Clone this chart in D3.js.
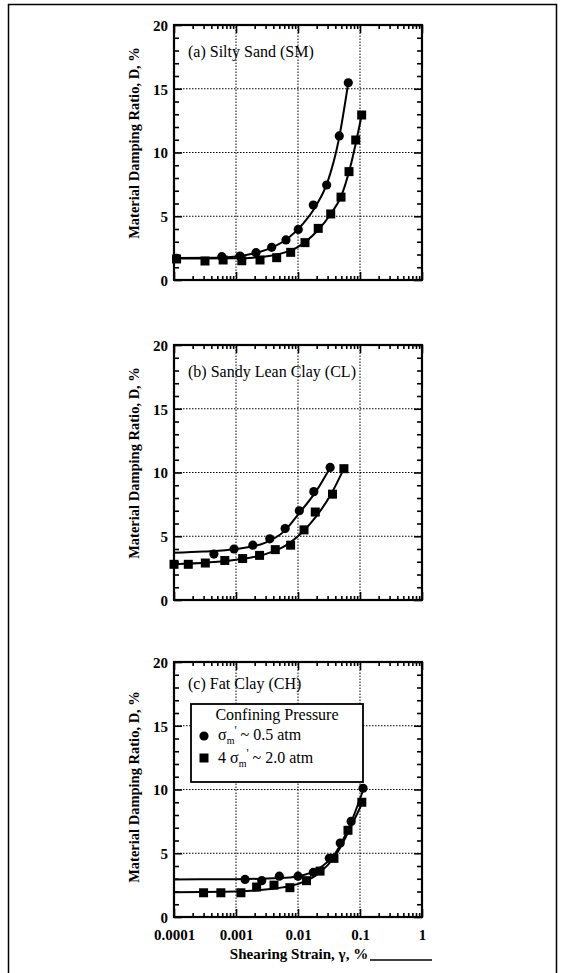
<!DOCTYPE html>
<html>
<head>
<meta charset="utf-8">
<script src="https://cdn.jsdelivr.net/npm/d3@7"></script>
<style>
  html, body { margin: 0; padding: 0; background: #fff; }
  svg { display: block; }
  text { font-family: "Liberation Serif", "Times New Roman", serif; fill: #000; }
</style>
</head>
<body>
<svg id="chart" width="563" height="973"></svg>
<script>
// ---------------- DATA ----------------
const strainTickValues = [0.0001, 0.001, 0.01, 0.1, 1];
const strainTickLabels = ["0.0001", "0.001", "0.01", "0.1", "1"];
const dampingTickValues = [0, 5, 10, 15, 20];
const dampingTickLabels = ["0", "5", "10", "15", "20"];
const panelTitles = ["(a) Silty Sand (SM)", "(b) Sandy Lean Clay (CL)", "(c) Fat Clay (CH)"];
const yAxisTitle = "Material Damping Ratio, D, %";
const xAxisTitle = "Shearing Strain, \u03B3, %";
const legendTitle = "Confining Pressure";

// (a) Silty Sand (SM)
const smCircleStrain = [0.00011, 0.00059, 0.00116, 0.0021, 0.00376, 0.0064, 0.0101, 0.01766, 0.029, 0.0463, 0.0647];
const smCircleD      = [1.7, 1.83, 1.88, 2.14, 2.56, 3.14, 3.97, 5.88, 7.45, 11.3, 15.47];
const smSquareStrain = [0.00011, 0.000316, 0.00062, 0.00124, 0.00244, 0.00453, 0.00762, 0.01297, 0.0212, 0.0337, 0.0494, 0.0665, 0.0853, 0.1064];
const smSquareD      = [1.65, 1.49, 1.57, 1.51, 1.57, 1.75, 2.17, 2.93, 4.05, 5.18, 6.5, 8.5, 10.98, 12.94];
const smCircleCurveStrain = [0.0001, 0.0005, 0.001, 0.002, 0.004, 0.007, 0.012, 0.02, 0.03, 0.045, 0.0647];
const smCircleCurveD      = [1.72, 1.75, 1.84, 2.1, 2.6, 3.3, 4.4, 5.9, 7.7, 10.9, 15.47];
const smSquareCurveStrain = [0.0001, 0.001, 0.003, 0.006, 0.01, 0.02, 0.035, 0.05, 0.07, 0.1064];
const smSquareCurveD      = [1.68, 1.7, 1.85, 2.15, 2.6, 3.8, 5.3, 6.6, 8.9, 12.94];

// (b) Sandy Lean Clay (CL)
const clCircleStrain = [0.00044, 0.00093, 0.00187, 0.0035, 0.0062, 0.0105, 0.018, 0.033];
const clCircleD      = [3.6, 4.0, 4.3, 4.8, 5.6, 7.0, 8.5, 10.4];
const clSquareStrain = [0.0001, 0.00017, 0.00032, 0.00066, 0.00128, 0.0024, 0.0043, 0.0076, 0.0125, 0.019, 0.036, 0.055];
const clSquareD      = [2.8, 2.8, 2.9, 3.1, 3.25, 3.5, 3.95, 4.3, 5.5, 6.9, 8.3, 10.3];
const clCircleCurveStrain = [0.0001, 0.0003, 0.001, 0.003, 0.006, 0.01, 0.02, 0.034];
const clCircleCurveD      = [3.7, 3.8, 4.0, 4.5, 5.4, 6.7, 8.6, 10.5];
const clSquareCurveStrain = [0.0001, 0.001, 0.003, 0.006, 0.01, 0.02, 0.035, 0.055];
const clSquareCurveD      = [2.8, 3.15, 3.6, 4.2, 5.0, 6.6, 8.4, 10.3];

// (c) Fat Clay (CH)
const chCircleStrain = [0.0014, 0.0026, 0.005, 0.01, 0.0177, 0.032, 0.048, 0.072, 0.112];
const chCircleD      = [2.95, 2.85, 3.2, 3.2, 3.5, 4.6, 5.8, 7.5, 10.1];
const chSquareStrain = [0.0003, 0.00057, 0.0012, 0.00215, 0.0041, 0.0074, 0.0137, 0.0227, 0.038, 0.064, 0.107];
const chSquareD      = [1.9, 1.9, 1.9, 2.35, 2.5, 2.3, 2.85, 3.6, 4.6, 6.8, 9.0];
const chCircleCurveStrain = [0.0001, 0.001, 0.005, 0.01, 0.02, 0.04, 0.07, 0.115];
const chCircleCurveD      = [2.95, 2.97, 3.05, 3.2, 3.7, 5.0, 7.3, 10.1];
const chSquareCurveStrain = [0.0001, 0.001, 0.003, 0.01, 0.02, 0.04, 0.07, 0.11];
const chSquareCurveD      = [1.95, 2.0, 2.15, 2.6, 3.3, 4.8, 7.0, 9.0];

// ---------------- BUILD ----------------
const zip = (a, b) => a.map((v, i) => [v, b[i]]);
const panels = [
  { title: panelTitles[0], top: 25,  titleDy: 32, labelCy: 143,
    circles: zip(smCircleStrain, smCircleD), squares: zip(smSquareStrain, smSquareD),
    cCurve: zip(smCircleCurveStrain, smCircleCurveD), sCurve: zip(smSquareCurveStrain, smSquareCurveD) },
  { title: panelTitles[1], top: 345, titleDy: 32, labelCy: 463,
    circles: zip(clCircleStrain, clCircleD), squares: zip(clSquareStrain, clSquareD),
    cCurve: zip(clCircleCurveStrain, clCircleCurveD), sCurve: zip(clSquareCurveStrain, clSquareCurveD) },
  { title: panelTitles[2], top: 662, titleDy: 27, labelCy: 787, legend: true, xLabels: true,
    circles: zip(chCircleStrain, chCircleD), squares: zip(chSquareStrain, chSquareD),
    cCurve: zip(chCircleCurveStrain, chCircleCurveD), sCurve: zip(chSquareCurveStrain, chSquareCurveD) }
];

const svg = d3.select("#chart");
const left = 174, right = 422, ph = 255;

// outer frame
svg.append("rect").attr("x", 8.5).attr("y", 4.5).attr("width", 548).attr("height", 980)
  .attr("fill", "none").attr("stroke", "#000").attr("stroke-width", 1.5);

const x = d3.scaleLog().domain([1e-4, 1]).range([left, right]);
const minorX = [];
for (let e = -4; e < 0; e++) for (let k = 2; k <= 9; k++) minorX.push(k * Math.pow(10, e));
const minorY = d3.range(0, 21, 1).filter(v => v % 5 !== 0);

panels.forEach(p => {
  const y = d3.scaleLinear().domain([0, 20]).range([p.top + ph, p.top]);
  const g = svg.append("g");

  // grid (dotted)
  g.append("g").selectAll("line").data(strainTickValues.slice(1, -1)).join("line")
    .attr("x1", d => x(d)).attr("x2", d => x(d)).attr("y1", y(0)).attr("y2", y(20))
    .attr("stroke", "#000").attr("stroke-width", 1).attr("stroke-dasharray", "1.5,1.5");
  g.append("g").selectAll("line").data(dampingTickValues.slice(1, -1)).join("line")
    .attr("x1", left).attr("x2", right).attr("y1", d => y(d)).attr("y2", d => y(d))
    .attr("stroke", "#000").attr("stroke-width", 1).attr("stroke-dasharray", "1.5,1.5");

  // axes with inward ticks
  const fmtY = d => dampingTickLabels[dampingTickValues.indexOf(d)];
  const fmtX = d => strainTickLabels[strainTickValues.indexOf(d)];
  const styleAxis = sel => {
    sel.select(".domain").remove();
    sel.selectAll(".tick line").attr("stroke", "#000").attr("stroke-width", 1.6);
    sel.selectAll("text").style("font-family", "'Liberation Serif', serif")
      .style("font-weight", "bold").style("font-size", "15px").attr("fill", "#000");
  };
  g.append("g").attr("transform", `translate(${left},0)`)
    .call(d3.axisLeft(y).tickValues(dampingTickValues).tickFormat(fmtY).tickSize(-8).tickPadding(6))
    .call(styleAxis).selectAll("text").attr("dy", "0.36em");
  g.append("g").attr("transform", `translate(${left},0)`)
    .call(d3.axisLeft(y).tickValues(minorY).tickFormat("").tickSize(-5)).call(styleAxis);
  g.append("g").attr("transform", `translate(${right},0)`)
    .call(d3.axisRight(y).tickValues(dampingTickValues).tickFormat("").tickSize(-8)).call(styleAxis);
  g.append("g").attr("transform", `translate(${right},0)`)
    .call(d3.axisRight(y).tickValues(minorY).tickFormat("").tickSize(-5)).call(styleAxis);

  g.append("g").attr("transform", `translate(0,${y(0)})`)
    .call(d3.axisBottom(x).tickValues(strainTickValues).tickFormat(p.xLabels ? fmtX : "").tickSize(-8).tickPadding(12))
    .call(styleAxis);
  g.append("g").attr("transform", `translate(0,${y(0)})`)
    .call(d3.axisBottom(x).tickValues(minorX).tickFormat("").tickSize(-4)).call(styleAxis);
  g.append("g").attr("transform", `translate(0,${y(20)})`)
    .call(d3.axisTop(x).tickValues(strainTickValues).tickFormat("").tickSize(-8)).call(styleAxis);
  g.append("g").attr("transform", `translate(0,${y(20)})`)
    .call(d3.axisTop(x).tickValues(minorX).tickFormat("").tickSize(-4)).call(styleAxis);

  // frame
  g.append("rect").attr("x", left).attr("y", p.top).attr("width", right - left).attr("height", ph)
    .attr("fill", "none").attr("stroke", "#000").attr("stroke-width", 2.2);

  // curves
  const line = d3.line().x(d => x(d[0])).y(d => y(d[1])).curve(d3.curveMonotoneX);
  [p.cCurve, p.sCurve].forEach(c => {
    g.append("path").attr("d", line(c)).attr("fill", "none").attr("stroke", "#000").attr("stroke-width", 2);
  });

  // markers
  g.append("g").selectAll("circle").data(p.circles).join("circle")
    .attr("cx", d => x(d[0])).attr("cy", d => y(d[1])).attr("r", 4.6).attr("fill", "#000");
  g.append("g").selectAll("rect").data(p.squares).join("rect")
    .attr("x", d => x(d[0]) - 4.5).attr("y", d => y(d[1]) - 4.5).attr("width", 9).attr("height", 9).attr("fill", "#000");

  // title
  g.append("text").attr("x", 188).attr("y", p.top + p.titleDy)
    .style("font-size", "16px").text(p.title);

  // y-axis title
  g.append("text").attr("transform", `translate(139,${p.labelCy}) rotate(-90)`)
    .attr("text-anchor", "middle").style("font-size", "14.5px").style("font-weight", "bold")
    .text(yAxisTitle);

  // legend
  if (p.legend) {
    const lg = g.append("g");
    lg.append("rect").attr("x", 191).attr("y", 704).attr("width", 172).attr("height", 78)
      .attr("fill", "#fff").attr("stroke", "#000").attr("stroke-width", 1.8);
    lg.append("text").attr("x", 277).attr("y", 720).attr("text-anchor", "middle")
      .style("font-size", "16px").text(legendTitle);
    lg.append("circle").attr("cx", 204).attr("cy", 736).attr("r", 4.6).attr("fill", "#000");
    lg.append("rect").attr("x", 199.5).attr("y", 753.5).attr("width", 9).attr("height", 9).attr("fill", "#000");
    const t1 = lg.append("text").attr("x", 218).attr("y", 740).style("font-size", "16px");
    t1.append("tspan").text("\u03C3");
    t1.append("tspan").attr("dy", 4).style("font-size", "10px").text("m");
    t1.append("tspan").attr("dy", -10).style("font-size", "12px").text("'");
    t1.append("tspan").attr("dy", 6).text("  ~  0.5 atm");
    const t2 = lg.append("text").attr("x", 218).attr("y", 763).style("font-size", "16px");
    t2.append("tspan").text("4 \u03C3");
    t2.append("tspan").attr("dy", 4).style("font-size", "10px").text("m");
    t2.append("tspan").attr("dy", -10).style("font-size", "12px").text("'");
    t2.append("tspan").attr("dy", 6).text("  ~  2.0 atm");
  }
});

// x-axis title + underline
svg.append("text").attr("x", 299).attr("y", 959).attr("text-anchor", "middle")
  .style("font-size", "15px").style("font-weight", "bold").text(xAxisTitle);
svg.append("line").attr("x1", 370).attr("x2", 432).attr("y1", 960).attr("y2", 960)
  .attr("stroke", "#000").attr("stroke-width", 1.5);
</script>
</body>
</html>
